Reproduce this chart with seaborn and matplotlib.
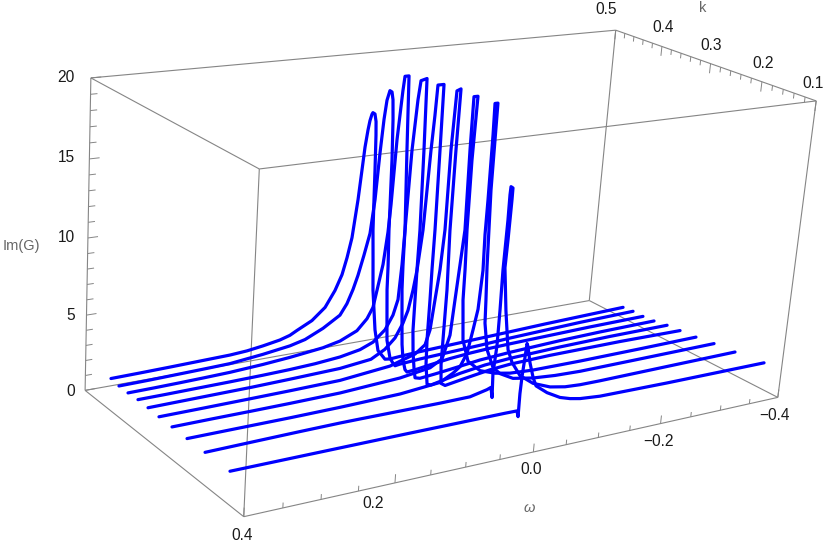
# -*- coding: utf-8 -*-
"""
Im(G) against omega for ten values of k, drawn as a perspective box.
The 3D points are projected onto a plain axes and drawn with seaborn.
"""

import numpy as np
import pandas as pd
import seaborn as sns
import matplotlib
matplotlib.use("Agg")
import matplotlib.pyplot as plt

k_values = [0.41, 0.385, 0.36, 0.335, 0.31, 0.285, 0.255, 0.22, 0.18, 0.125]

omega_0 = [.4100,.3712,.3304,.2889,.2468,.2226,.1997,.1753,.1609,.1508,.1292,.1106,.0970,.0878,.0817,.0760,.0703,.0671,.0646,.0617,.0596,.0572,.0559,.0527,.0504,.0492,.0474,.0461,.0447,.0418,.0389,.0318,.0250,.0198,.0131,.0050,-.0104,-.0422,-.0905,-.1397,-.1899,-.2495,-.3106,-.3875]
im_g_0 = [2.55,2.58,2.62,2.67,2.72,2.80,2.95,3.15,3.35,3.6,4.1,4.85,5.9,6.9,8.0,9.3,11.8,13.7,15.2,16.3,16.9,17.3,17.4,17.3,16.8,15.9,13.6,11.6,9.6,7.6,5.5,2.7,1.2,0.9,0.5,0.45,0.5,0.58,0.66,0.74,0.82,0.92,1.0,1.1]

omega_1 = [.4118,.3705,.3368,.2955,.2607,.2141,.1755,.1537,.1279,.1036,.0941,.0862,.0800,.0728,.0657,.0613,.0583,.0554,.0528,.0493,.0461,.0439,.0419,.0395,.0371,.0349,.0341,.0311,.0290,.0224,.0171,.0137,.0062,-.0252,-.0730,-.1218,-.1713,-.2303,-.2906,-.3849]
im_g_1 = [2.55,2.58,2.62,2.67,2.72,2.95,3.2,3.45,4.0,4.7,5.4,6.3,7.2,8.5,9.9,12.1,15.1,17.3,18.5,19.1,19.0,18.5,17.2,14.6,9.9,7.5,5.9,3.8,2.4,1.1,0.7,0.5,0.55,0.65,0.74,0.83,0.95,1.05,1.15,1.25]

omega_2 = [.4124,.3767,.3432,.3092,.2747,.2284,.1899,.1423,.1175,.0930,.0789,.0709,.0665,.0598,.0555,.0536,.0510,.0470,.0453,.0394,.0350,.0298,.0292,.0282,.0250,.0223,.0191,.0150,.0115,-.0055,-.0242,-.0555,-.0874,-.1198,-.1529,-.2196,-.2882,-.3821]
im_g_2 = [2.58,2.6,2.63,2.67,2.72,2.85,3.0,3.25,3.5,4.0,4.7,5.4,6.5,8.2,10.3,12.1,16.3,19.4,20.3,20.3,15.5,10.3,7.9,6.3,4.2,2.5,1.4,0.7,0.5,0.58,0.7,0.88,1.0,1.08,1.13,1.2,1.27,1.32]

omega_3 = [.4120,.3764,.3430,.2887,.2428,.2045,.1686,.1324,.1032,.0844,.0673,.0567,.0506,.0481,.0471,.0448,.0410,.0384,.0297,.0268,.0244,.0247,.0245,.0243,.0218,.0186,.0159,.0081,-.0152,-.0386,-.0860,-.1344,-.2175,-.2858,-.3811]
im_g_3 = [2.62,2.63,2.65,2.68,2.72,2.77,2.85,3.0,3.25,3.6,4.3,5.2,6.2,8.5,10.8,15.9,19.1,20.3,20.4,15.8,10.6,8.0,6.0,3.9,2.4,1.3,0.6,0.5,0.6,0.72,0.98,1.12,1.28,1.36,1.42]

omega_4 = [.4116,.3430,.2723,.2192,.1478,.1027,.0827,.0685,.0580,.0517,.0462,.0422,.0374,.0339,.0317,.0304,.0215,.0204,.0192,.0194,.0191,.0192,.0180,.0141,.0079,-.0136,-.0367,-.0758,-.1158,-.1979,-.2828,-.3834]
im_g_4 = [2.58,2.62,2.66,2.72,2.82,3.05,3.55,4.2,5.1,5.9,7.2,8.5,11.1,16.2,18.4,20.3,20.3,16.2,11.0,8.4,6.4,3.7,2.0,0.6,0.5,0.7,0.92,1.17,1.3,1.43,1.5,1.52]

omega_5 = [.4102,.3498,.2865,.2339,.1631,.0906,.0760,.0538,.0396,.0336,.0293,.0251,.0220,.0219,.0195,.0137,.0144,.0144,.0121,.0125,.0126,.0105,.0039,-.0266,-.0654,-.0971,-.1619,-.2797,-.3854]
im_g_5 = [2.48,2.5,2.53,2.56,2.62,2.95,3.15,3.45,3.95,4.9,6.9,8.8,11.4,16.5,20.2,20.3,16.5,11.3,7.4,4.1,2.4,1.1,0.9,1.12,1.38,1.5,1.58,1.6,1.55]

omega_6 = [.4090,.3569,.3035,.2515,.1816,.0952,.0509,.0335,.0241,.0206,.0170,.0136,.0153,.0155,.0096,.0112,.0105,.0088,.0083,.0035,-.0069,-.0269,-.0511,-.0751,-.1119,-.1886,-.2900,-.3881]
im_g_6 = [2.42,2.44,2.45,2.47,2.52,2.75,3.05,3.5,5.0,7.3,9.6,11.8,16.9,20.2,20.2,16.2,11.8,9.2,7.2,4.5,3.0,2.2,1.82,1.62,1.52,1.5,1.53,1.58]

omega_7 = [.4082,.3656,.3234,.2723,.2033,.1177,.0593,.0408,.0308,.0218,.0154,.0103,.0075,.0088,.0085,.0088,.0096,.0053,.0052,.0018,-.0007,-.0021,-.0086,-.0203,-.0320,-.0531,-.0851,-.1205,-.1611,-.2489,-.3895]
im_g_7 = [2.38,2.39,2.4,2.41,2.45,2.55,2.8,3.25,3.6,4.4,5.9,7.2,9.7,12.0,14.2,18.3,20.2,20.2,14.8,9.9,7.7,6.2,4.4,3.1,2.6,2.1,1.85,1.72,1.66,1.68,1.72]

omega_8 = [.4067,.3462,.2826,.2282,.2006,.1439,.0861,.0419,.0169,.0111,.0081,.0098,.0072,.0071,.0077,.0065,.0066,.0061,.0030,.0030,.0039,.0050,-.0020,-.0061,-.0103,-.0181,-.0324,-.0540,-.0815,-.1056,-.1297,-.1618,-.2730,-.3911]
im_g_8 = [2.32,2.37,2.42,2.45,2.45,2.44,2.43,2.45,2.7,2.8,2.1,3.7,5.5,7.8,10.4,13.5,15.1,15.6,15.5,14.8,12.3,10.5,7.7,6.4,5.1,4.2,3.2,2.5,2.02,1.82,1.75,1.74,1.78,1.82]

omega_9 = [.4054,.2622,.1703,.0760,.0289,.0109,.0085,.0087,.0078,.0059,.0046,.0028,-.0025,-.0092,-.0149,-.0329,-.0538,-.0699,-.0858,-.1174,-.2261,-.3921]
im_g_9 = [2.28,2.3,2.31,2.31,2.31,2.3,1.9,3.4,4.5,5.7,6.6,6.4,5.3,4.3,3.7,3.1,2.6,2.38,2.24,2.12,2.06,2.04]

omega_series = [omega_0, omega_1, omega_2, omega_3, omega_4, omega_5, omega_6, omega_7, omega_8, omega_9]
im_g_series = [im_g_0, im_g_1, im_g_2, im_g_3, im_g_4, im_g_5, im_g_6, im_g_7, im_g_8, im_g_9]

omega_labels = ["0.4", "0.2", "0.0", "\u22120.2", "\u22120.4"]
k_labels = ["0.1", "0.2", "0.3", "0.4", "0.5"]
z_labels = ["0", "5", "10", "15", "20"]

# where the box corners sit on the canvas, used to fit the camera
corners = np.array([[.4, .1, 0], [-.4, .1, 0], [.4, .5, 0], [-.4, .5, 0],
                    [.4, .1, 20], [-.4, .1, 20], [.4, .5, 20], [-.4, .5, 20]])
corners_px = np.array([[244, 517], [778, 397], [85, 390], [589, 301],
                       [259, 169], [816, 101], [91, 78], [616, 30]], float)


def scaled(pts):
    pts = np.atleast_2d(pts)
    return np.c_[pts[:, 0] / .4, (pts[:, 1] - .3) / .2, (pts[:, 2] - 10) / 10, np.ones(len(pts))]


rows = []
for w, p in zip(scaled(corners), corners_px / 400):
    rows.append(np.r_[w, np.zeros(4), -p[0] * w])
    rows.append(np.r_[np.zeros(4), w, -p[1] * w])
camera = np.linalg.svd(np.array(rows))[2][-1].reshape(3, 4)


def project(omega, k, z):
    q = scaled(np.c_[omega, k, z]) @ camera.T
    return q[:, 0] / q[:, 2] * 400, q[:, 1] / q[:, 2] * 400


def seg(ax, a, b, lw=.8):
    x, y = project(*np.array([a, b]).T)
    ax.plot(x, y, color="#858585", lw=lw, solid_capstyle="butt", zorder=1)


sns.set_theme(style="white")
plt.rcParams["font.family"] = ["Liberation Sans", "DejaVu Sans"]

fig = plt.figure(figsize=(8.3, 5.47), dpi=100)
ax = fig.add_axes([0, 0, 1, 1])

# box
for a, b in [(0, 1), (0, 2), (1, 3), (2, 3), (4, 5), (4, 6), (5, 7), (6, 7), (0, 4), (1, 5), (2, 6), (3, 7)]:
    seg(ax, corners[a], corners[b])

# ticks
for i in range(-8, 9):
    seg(ax, (i * .05, .1, 0), (i * .05, .1, .55 if i % 4 == 0 else .33), .7)
for i in range(21):
    seg(ax, (-.4, .1 + i * .02, 20), (-.4, .1 + i * .02, 20 - (.65 if i % 5 == 0 else .35)), .7)
for zz in range(21):
    seg(ax, (.4, .5, zz), (.4 - (.0135 if zz % 5 == 0 else .009), .5, zz), .7)

frames = []
for k, om, im in zip(k_values, omega_series, im_g_series):
    px, py = project(np.array(om), np.full(len(om), k), np.array(im))
    frames.append(pd.DataFrame({"k": k, "px": px, "py": py}))
df = pd.concat(frames, ignore_index=True)

sns.lineplot(data=df, x="px", y="py", units="k", estimator=None, sort=False,
             color="#0000ff", lw=2.3, solid_capstyle="round", solid_joinstyle="round",
             zorder=3, legend=False, ax=ax)

# tick labels
label_color = "#1a1a1a"
omega_pos = [(242, 535), (373, 503), (531, 469), (658, 442), (774, 415)]
for (x, y), s in zip(omega_pos, omega_labels):
    ax.text(x, y, s, ha="center", va="center", fontsize=11.2, color=label_color)
k_pos = [(813, 83), (763, 63), (711, 46), (663, 28), (606, 9)]
for (x, y), s in zip(k_pos, k_labels):
    ax.text(x, y, s, ha="center", va="center", fontsize=11.2, color=label_color)
z_pos = [(71, 391), (71, 315), (66, 238), (66, 158), (66, 78)]
for (x, y), s in zip(z_pos, z_labels):
    ax.text(x, y, s, ha="center", va="center", fontsize=11.2, color=label_color)

ax.text(529, 508, "\u03c9", ha="center", va="center", fontsize=10.5, style="italic", color="#666666")
ax.text(703, 8, "k", ha="center", va="center", fontsize=10.5, color="#666666")
ax.text(21, 246, "Im(G)", ha="center", va="center", fontsize=10.5, color="#666666")

ax.set_xlim(0, 830)
ax.set_ylim(547, 0)
ax.axis("off")
fig.savefig("out.png", dpi=100)
